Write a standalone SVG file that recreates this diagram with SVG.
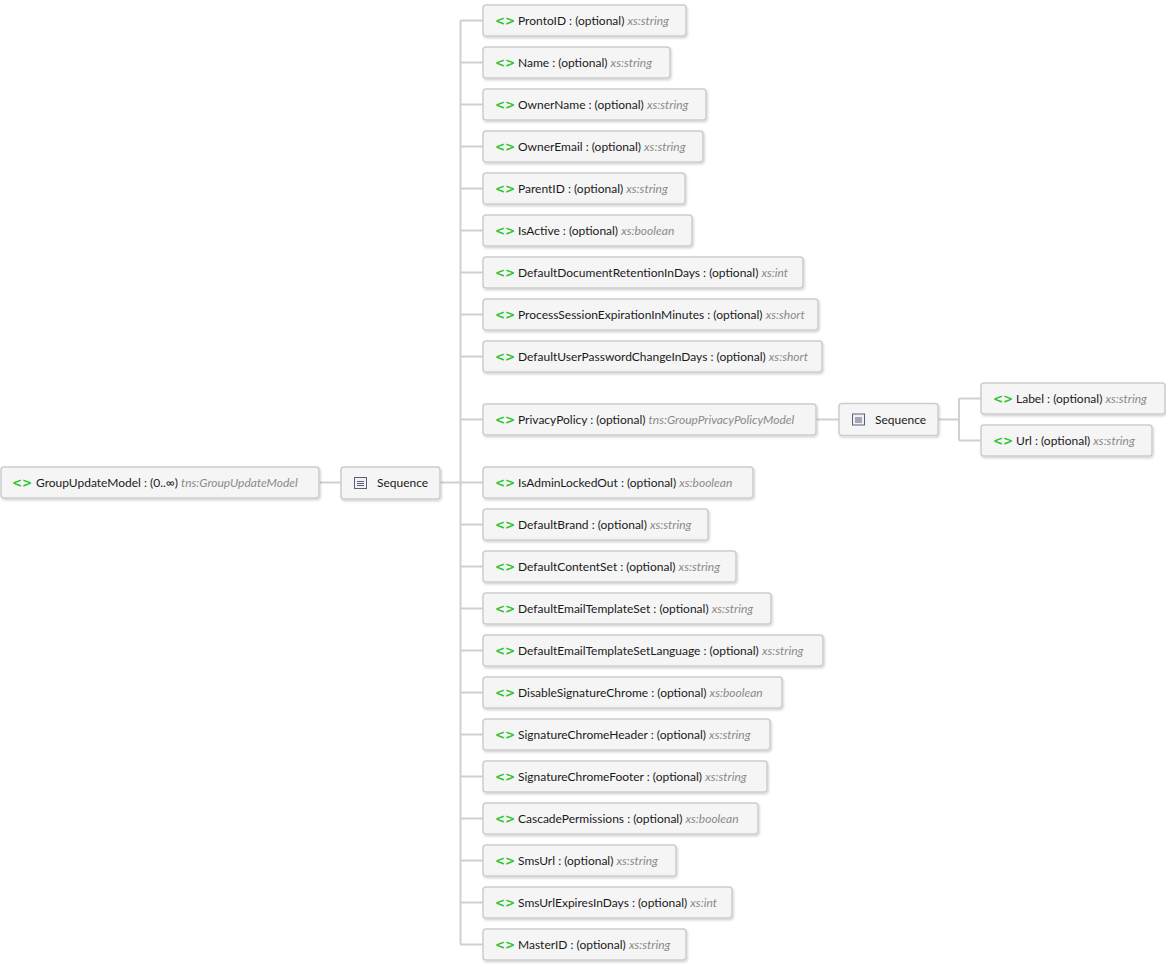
<svg xmlns="http://www.w3.org/2000/svg" width="1166" height="966" viewBox="0 0 1166 966">
<defs>
<style>
.box{fill:#f5f5f5;stroke:#cdcdcd;stroke-width:1.5;filter:url(#sh)}
.ic{font-family:"DejaVu Sans",sans-serif;font-size:12px;font-weight:bold;fill:#2fc42f}
.t{font-family:Lato,"Open Sans",sans-serif;font-size:12px;fill:#1a1a1a}
.ty{font-style:italic;fill:#8a8a8a}
.c{stroke:#d0d0d0;stroke-width:2;fill:none}
.sq{fill:#f0f0f6;stroke:#5a5f78;stroke-width:1}
.sql{stroke:#5a5f78;stroke-width:1}
</style>
<filter id="sh" x="-5%" y="-20%" width="110%" height="150%">
<feDropShadow dx="1" dy="1.5" stdDeviation="1" flood-color="#000" flood-opacity="0.18"/>
</filter>
</defs>
<rect width="1166" height="966" fill="#ffffff"/>
<g id="connectors">
<path class="c" d="M319 482.5H341"/>
<path class="c" d="M440 482.5H460.5"/>
<path class="c" d="M460.5 20.5V944.5"/>
<path class="c" d="M460.5 20.5H483M460.5 62.5H483M460.5 104.5H483M460.5 146.5H483M460.5 188.5H483M460.5 230.5H483M460.5 272.5H483M460.5 314.5H483M460.5 356.5H483M460.5 419.5H483M460.5 482.5H483M460.5 524.5H483M460.5 566.5H483M460.5 608.5H483M460.5 650.5H483M460.5 692.5H483M460.5 734.5H483M460.5 776.5H483M460.5 818.5H483M460.5 860.5H483M460.5 902.5H483M460.5 944.5H483"/>
<path class="c" d="M816 419.5H839"/>
<path class="c" d="M938 419.5H959M959 398.5V440.5M959 398.5H981M959 440.5H981"/>
</g>
<g id="root">
<rect class="box" x="1" y="467" width="318" height="31" rx="3"/>
<text class="ic" x="12" y="487">&lt;&gt;</text>
<text class="t" x="36" y="487">GroupUpdateModel : (0..∞) <tspan class="ty">tns:GroupUpdateModel</tspan></text>
</g>
<g id="seq1">
<rect class="box" x="341" y="467" width="99" height="32" rx="3"/>
<rect class="sq" x="354.5" y="477.5" width="12" height="11"/>
<path class="sql" d="M357 481.5H364M357 483.5H364M357 485.5H364"/>
<text class="t" x="377" y="487">Sequence</text>
</g>
<g id="seq2">
<rect class="box" x="839" y="403.5" width="99" height="32" rx="3"/>
<rect class="sq" x="852.5" y="414" width="12" height="11"/>
<path class="sql" d="M855 418H862M855 420H862M855 422H862"/>
<text class="t" x="875" y="423.5">Sequence</text>
</g>
<g id="e-ProntoID"><rect class="box" x="483" y="5" width="203" height="31" rx="3"/><text class="ic" x="495" y="25">&lt;&gt;</text><text class="t" x="518" y="25">ProntoID : (optional) <tspan class="ty">xs:string</tspan></text></g>
<g id="e-Name"><rect class="box" x="483" y="47" width="187" height="31" rx="3"/><text class="ic" x="495" y="67">&lt;&gt;</text><text class="t" x="518" y="67">Name : (optional) <tspan class="ty">xs:string</tspan></text></g>
<g id="e-OwnerName"><rect class="box" x="483" y="89" width="223" height="31" rx="3"/><text class="ic" x="495" y="109">&lt;&gt;</text><text class="t" x="518" y="109">OwnerName : (optional) <tspan class="ty">xs:string</tspan></text></g>
<g id="e-OwnerEmail"><rect class="box" x="483" y="131" width="220" height="31" rx="3"/><text class="ic" x="495" y="151">&lt;&gt;</text><text class="t" x="518" y="151">OwnerEmail : (optional) <tspan class="ty">xs:string</tspan></text></g>
<g id="e-ParentID"><rect class="box" x="483" y="173" width="202" height="31" rx="3"/><text class="ic" x="495" y="193">&lt;&gt;</text><text class="t" x="518" y="193">ParentID : (optional) <tspan class="ty">xs:string</tspan></text></g>
<g id="e-IsActive"><rect class="box" x="483" y="215" width="209" height="31" rx="3"/><text class="ic" x="495" y="235">&lt;&gt;</text><text class="t" x="518" y="235">IsActive : (optional) <tspan class="ty">xs:boolean</tspan></text></g>
<g id="e-DefaultDocumentRetentionInDays"><rect class="box" x="483" y="257" width="320" height="31" rx="3"/><text class="ic" x="495" y="277">&lt;&gt;</text><text class="t" x="518" y="277">DefaultDocumentRetentionInDays : (optional) <tspan class="ty">xs:int</tspan></text></g>
<g id="e-ProcessSessionExpirationInMinutes"><rect class="box" x="483" y="299" width="335" height="31" rx="3"/><text class="ic" x="495" y="319">&lt;&gt;</text><text class="t" x="518" y="319">ProcessSessionExpirationInMinutes : (optional) <tspan class="ty">xs:short</tspan></text></g>
<g id="e-DefaultUserPasswordChangeInDays"><rect class="box" x="483" y="341" width="339" height="31" rx="3"/><text class="ic" x="495" y="361">&lt;&gt;</text><text class="t" x="518" y="361">DefaultUserPasswordChangeInDays : (optional) <tspan class="ty">xs:short</tspan></text></g>
<g id="e-PrivacyPolicy"><rect class="box" x="483" y="404" width="333" height="31" rx="3"/><text class="ic" x="495" y="424">&lt;&gt;</text><text class="t" x="518" y="424">PrivacyPolicy : (optional) <tspan class="ty">tns:GroupPrivacyPolicyModel</tspan></text></g>
<g id="e-IsAdminLockedOut"><rect class="box" x="483" y="467" width="270" height="31" rx="3"/><text class="ic" x="495" y="487">&lt;&gt;</text><text class="t" x="518" y="487">IsAdminLockedOut : (optional) <tspan class="ty">xs:boolean</tspan></text></g>
<g id="e-DefaultBrand"><rect class="box" x="483" y="509" width="225" height="31" rx="3"/><text class="ic" x="495" y="529">&lt;&gt;</text><text class="t" x="518" y="529">DefaultBrand : (optional) <tspan class="ty">xs:string</tspan></text></g>
<g id="e-DefaultContentSet"><rect class="box" x="483" y="551" width="253" height="31" rx="3"/><text class="ic" x="495" y="571">&lt;&gt;</text><text class="t" x="518" y="571">DefaultContentSet : (optional) <tspan class="ty">xs:string</tspan></text></g>
<g id="e-DefaultEmailTemplateSet"><rect class="box" x="483" y="593" width="288" height="31" rx="3"/><text class="ic" x="495" y="613">&lt;&gt;</text><text class="t" x="518" y="613">DefaultEmailTemplateSet : (optional) <tspan class="ty">xs:string</tspan></text></g>
<g id="e-DefaultEmailTemplateSetLanguage"><rect class="box" x="483" y="635" width="340" height="31" rx="3"/><text class="ic" x="495" y="655">&lt;&gt;</text><text class="t" x="518" y="655">DefaultEmailTemplateSetLanguage : (optional) <tspan class="ty">xs:string</tspan></text></g>
<g id="e-DisableSignatureChrome"><rect class="box" x="483" y="677" width="299" height="31" rx="3"/><text class="ic" x="495" y="697">&lt;&gt;</text><text class="t" x="518" y="697">DisableSignatureChrome : (optional) <tspan class="ty">xs:boolean</tspan></text></g>
<g id="e-SignatureChromeHeader"><rect class="box" x="483" y="719" width="287" height="31" rx="3"/><text class="ic" x="495" y="739">&lt;&gt;</text><text class="t" x="518" y="739">SignatureChromeHeader : (optional) <tspan class="ty">xs:string</tspan></text></g>
<g id="e-SignatureChromeFooter"><rect class="box" x="483" y="761" width="284" height="31" rx="3"/><text class="ic" x="495" y="781">&lt;&gt;</text><text class="t" x="518" y="781">SignatureChromeFooter : (optional) <tspan class="ty">xs:string</tspan></text></g>
<g id="e-CascadePermissions"><rect class="box" x="483" y="803" width="275" height="31" rx="3"/><text class="ic" x="495" y="823">&lt;&gt;</text><text class="t" x="518" y="823">CascadePermissions : (optional) <tspan class="ty">xs:boolean</tspan></text></g>
<g id="e-SmsUrl"><rect class="box" x="483" y="845" width="193" height="31" rx="3"/><text class="ic" x="495" y="865">&lt;&gt;</text><text class="t" x="518" y="865">SmsUrl : (optional) <tspan class="ty">xs:string</tspan></text></g>
<g id="e-SmsUrlExpiresInDays"><rect class="box" x="483" y="887" width="249" height="31" rx="3"/><text class="ic" x="495" y="907">&lt;&gt;</text><text class="t" x="518" y="907">SmsUrlExpiresInDays : (optional) <tspan class="ty">xs:int</tspan></text></g>
<g id="e-MasterID"><rect class="box" x="483" y="929" width="203" height="31" rx="3"/><text class="ic" x="495" y="949">&lt;&gt;</text><text class="t" x="518" y="949">MasterID : (optional) <tspan class="ty">xs:string</tspan></text></g>
<g id="e-Label"><rect class="box" x="981" y="383" width="184" height="31" rx="3"/><text class="ic" x="993" y="403">&lt;&gt;</text><text class="t" x="1016" y="403">Label : (optional) <tspan class="ty">xs:string</tspan></text></g>
<g id="e-Url"><rect class="box" x="981" y="425" width="171" height="31" rx="3"/><text class="ic" x="993" y="445">&lt;&gt;</text><text class="t" x="1016" y="445">Url : (optional) <tspan class="ty">xs:string</tspan></text></g>
</svg>
